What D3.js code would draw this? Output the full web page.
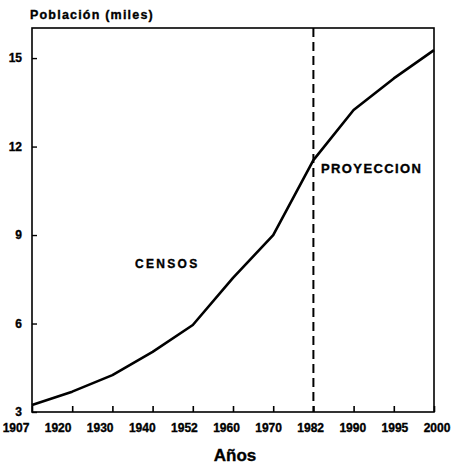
<!DOCTYPE html>
<html>
<head>
<meta charset="utf-8">
<script src="https://cdn.jsdelivr.net/npm/d3@7"></script>
<style>
  body { margin: 0; background: #fff; }
  text { font-family: "Liberation Sans", Arial, sans-serif; font-weight: bold; fill: #000; stroke: #000; stroke-width: 0.35px; }
</style>
</head>
<body>
<svg id="chart"></svg>
<script>
// data
var years = ["1907", "1920", "1930", "1940", "1952", "1960", "1970", "1982", "1990", "1995", "2000"]
var poblacion = [3.24, 3.69, 4.25, 5.04, 5.95, 7.55, 9.0, 11.54, 13.24, 14.31, 15.27]
var yTicks = [3, 6, 9, 12, 15]
var splitYear = "1982"

var width = 456
var height = 465
var plotLeft = 32, plotRight = 434, plotTop = 28, plotBottom = 412

var svg = d3.select("#chart")
    .attr("width", width)
    .attr("height", height)

var x = d3.scalePoint()
    .domain(years)
    .range([plotLeft, plotRight])

// the year labels are spread a bit wider than the ticks
var xLabel = d3.scalePoint()
    .domain(years)
    .range([16, 437])

var y = d3.scaleLinear()
    .domain([3, 16.02])
    .range([plotBottom, plotTop])

// frame
svg.append("rect")
    .attr("x", plotLeft)
    .attr("y", plotTop)
    .attr("width", plotRight - plotLeft)
    .attr("height", plotBottom - plotTop)
    .style("fill", "none")
    .style("stroke", "#000")
    .style("stroke-width", 1.6)

// bottom ticks, pointing in
var xAxis = d3.axisBottom(x)
    .tickSize(-6)
    .tickFormat("")

svg.append("g")
    .attr("transform", `translate(0,${plotBottom})`)
    .call(xAxis)
    .call(g => g.select(".domain").remove())
    .selectAll("line")
    .style("stroke-width", 1.6)

svg.append("g")
    .selectAll("text")
    .data(years)
    .enter()
    .append("text")
    .attr("x", d => xLabel(d))
    .attr("y", 432)
    .attr("text-anchor", "middle")
    .style("font-size", "12px")
    .text(d => d)

// left axis
var yAxis = d3.axisLeft(y)
    .tickValues(yTicks)
    .tickSize(-5)
    .tickPadding(10)

svg.append("g")
    .attr("transform", `translate(${plotLeft},0)`)
    .call(yAxis)
    .call(g => g.select(".domain").remove())
    .call(g => g.selectAll("line").style("stroke-width", 1.4))
    .selectAll("text")
    .attr("fill", "#000")
    .style("font-family", "'Liberation Sans', Arial, sans-serif")
    .style("font-weight", "bold")
    .style("font-size", "12px")

// projection divider
svg.append("line")
    .attr("x1", x(splitYear))
    .attr("x2", x(splitYear))
    .attr("y1", plotTop)
    .attr("y2", plotBottom)
    .style("stroke", "#000")
    .style("stroke-width", 2)
    .style("stroke-dasharray", "9,5")

// population line
var line = d3.line()
    .x((d, i) => x(years[i]))
    .y(d => y(d))

svg.append("path")
    .datum(poblacion)
    .attr("d", line)
    .style("fill", "none")
    .style("stroke", "#000")
    .style("stroke-width", 2.6)
    .style("stroke-linejoin", "round")

// labels
svg.append("text")
    .attr("x", 30)
    .attr("y", 19)
    .style("font-size", "12.5px")
    .style("letter-spacing", "1.2px")
    .text("Población (miles)")

svg.append("text")
    .attr("x", 135)
    .attr("y", 268)
    .style("font-size", "12px")
    .style("letter-spacing", "2.3px")
    .text("CENSOS")

svg.append("text")
    .attr("x", 321)
    .attr("y", 173)
    .style("font-size", "13px")
    .style("letter-spacing", "1.4px")
    .text("PROYECCION")

svg.append("text")
    .attr("x", 235)
    .attr("y", 461)
    .attr("text-anchor", "middle")
    .style("font-size", "17px")
    .text("Años")
</script>
</body>
</html>
